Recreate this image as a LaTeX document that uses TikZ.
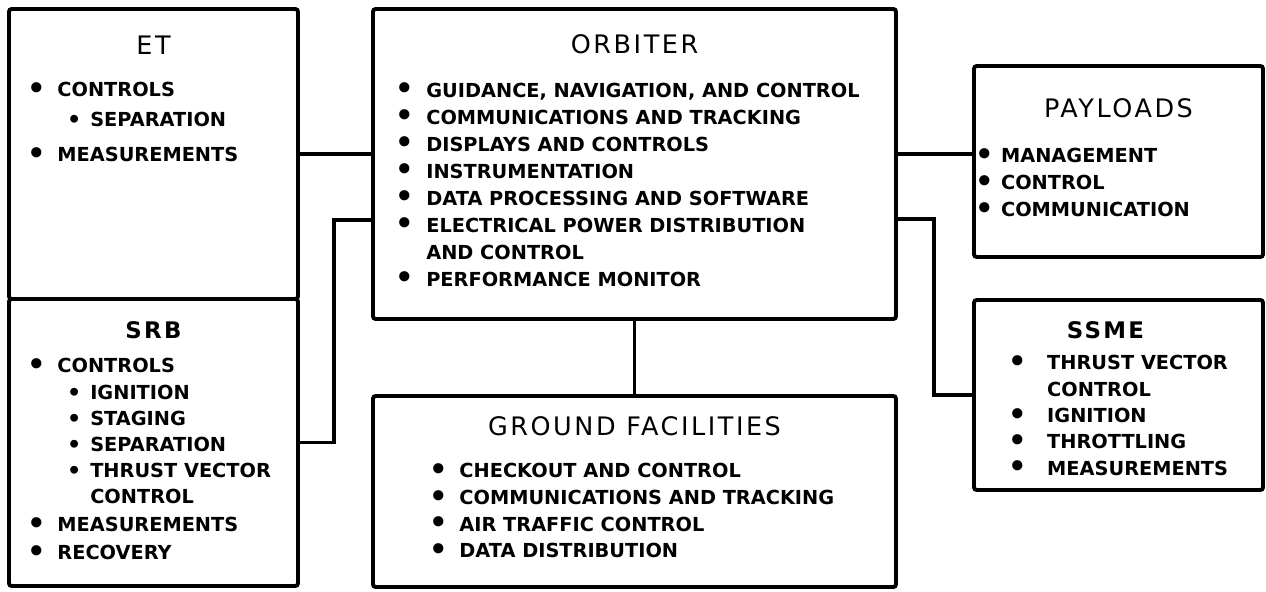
\documentclass[tikz,border=0pt]{standalone}
\usepackage{fontspec}
\usepackage{graphicx}
\setmainfont{DejaVu Sans}
\newfontfamily\ttlfont[LetterSpace=10]{DejaVu Sans}
\newfontfamily\bttlfont[LetterSpace=10]{DejaVu Sans Bold}
\usetikzlibrary{positioning}
\newcommand{\blt}{\makebox[0pt][c]{\raisebox{-1pt}{\scalebox{1.5}{\textbullet}}}}
\newcommand{\sblt}{\makebox[0pt][c]{\raisebox{-0.4pt}{\scalebox{1.15}{\textbullet}}}}
\newcommand{\itm}[2]{\blt\hspace*{#1}#2}
\newcommand{\subitm}[3]{\hspace*{#1}\sblt\hspace*{#2}#3}
\tikzset{
  box/.style={draw, line width=2.2pt, outer sep=0pt, inner sep=0pt,
              rounded corners=1.5pt, minimum width=5.78cm},
  ttl/.style={inner sep=0pt, font=\ttlfont\fontsize{14.5}{17}\selectfont},
  bttl/.style={inner sep=0pt, font=\bttlfont\fontsize{13}{16}\selectfont},
  lst/.style={inner sep=0pt, align=left, font=\bfseries\fontsize{11}{#1}\selectfont},
  lst/.default=15.36pt,
  wire/.style={line width=2.2pt},
}

\begin{document}
\begin{tikzpicture}
  \useasboundingbox (0,0) rectangle (25.32,-11.82);

  % ---- Orbiter ----
  \node[box, minimum width=10.46cm, minimum height=6.2cm] (orb) at (12.69,-3.28) {};
  \node[ttl, below=0.51cm of orb.north] (orbttl) {ORBITER};
  \node[lst, below right=1.47cm and 0.62cm of orb.north west] (orblist)
    {\itm{12.5pt}{GUIDANCE, NAVIGATION, AND CONTROL}\\
     \itm{12.5pt}{COMMUNICATIONS AND TRACKING}\\
     \itm{12.5pt}{DISPLAYS AND CONTROLS}\\
     \itm{12.5pt}{INSTRUMENTATION}\\
     \itm{12.5pt}{DATA PROCESSING AND SOFTWARE}\\
     \itm{12.5pt}{ELECTRICAL POWER DISTRIBUTION}\\
     \hspace*{12.5pt}AND CONTROL\\
     \itm{12.5pt}{PERFORMANCE MONITOR}};

  % ---- ET and SRB ----
  \node[box, minimum height=5.8cm, left=1.5cm of orb.north west, anchor=north east] (et) {};
  \node[ttl, below=0.54cm of et.north] (etttl) {ET};
  \node[lst, below right=1.46cm and 0.54cm of et.north west] (etlist)
    {\itm{12pt}{CONTROLS}\\[1.7pt]
     \subitm{21.6pt}{9.1pt}{SEPARATION}\\[4.6pt]
     \itm{12pt}{MEASUREMENTS}};

  \node[box, minimum height=5.74cm, below=0cm of et] (srb) {};
  \node[bttl, below=0.45cm of srb.north] (srbttl) {SRB};
  \node[lst=14.8pt, below right=1.18cm and 0.54cm of srb.north west] (srblist)
    {\itm{12pt}{CONTROLS}\\[0.6pt]
     \subitm{21.6pt}{9.1pt}{IGNITION}\\
     \subitm{21.6pt}{9.1pt}{STAGING}\\
     \subitm{21.6pt}{9.1pt}{SEPARATION}\\
     \subitm{21.6pt}{9.1pt}{THRUST VECTOR}\\
     \hspace*{30.7pt}CONTROL\\[1.1pt]
     \itm{12pt}{MEASUREMENTS}\\[1.1pt]
     \itm{12pt}{RECOVERY}};

  % ---- Ground ----
  \node[box, minimum width=10.46cm, minimum height=3.82cm, below=1.54cm of orb] (grd) {};
  \node[ttl, below=0.4cm of grd.north] (grdttl) {GROUND FACILITIES};
  \node[lst=15.2pt, below right=1.34cm and 1.3cm of grd.north west] (grdlist)
    {\itm{12pt}{CHECKOUT AND CONTROL}\\
     \itm{12pt}{COMMUNICATIONS AND TRACKING}\\
     \itm{12pt}{AIR TRAFFIC CONTROL}\\
     \itm{12pt}{DATA DISTRIBUTION}};

  % ---- Payloads and SSME ----
  \node[box, minimum height=3.82cm, below right=1.14cm and 1.56cm of orb.north east] (pay) {};
  \node[ttl, below=0.64cm of pay.north] (payttl) {PAYLOADS};
  \node[lst, below right=1.64cm and 0.2cm of pay.north west] (paylist)
    {\itm{9.5pt}{MANAGEMENT}\\
     \itm{9.5pt}{CONTROL}\\
     \itm{9.5pt}{COMMUNICATION}};

  \node[box, minimum height=3.8cm, below=0.86cm of pay] (ssme) {};
  \node[bttl, below=0.43cm of ssme.north, xshift=-0.26cm] (ssmettl) {SSME};
  \node[lst=15pt, below right=1.1cm and 0.86cm of ssme.north west] (ssmelist)
    {\itm{17pt}{THRUST VECTOR}\\
     \hspace*{17pt}CONTROL\\
     \itm{17pt}{IGNITION}\\
     \itm{17pt}{THROTTLING}\\
     \itm{17pt}{MEASUREMENTS}};

  % ---- Links ----
  \draw[wire] (et.east) -- (et.east -| orb.west);
  \draw[wire] (srb.east) -- ++(0.72,0) |- ([yshift=-1.12cm]orb.west);
  \draw[wire] ([yshift=0.2cm]orb.east) -- ([yshift=0.2cm]orb.east -| pay.west);
  \draw[wire] ([yshift=-1.1cm]orb.east) -- ++(0.76,0) |- (ssme.west);
  \draw[wire] (orb) -- (grd);
\end{tikzpicture}
\end{document}
